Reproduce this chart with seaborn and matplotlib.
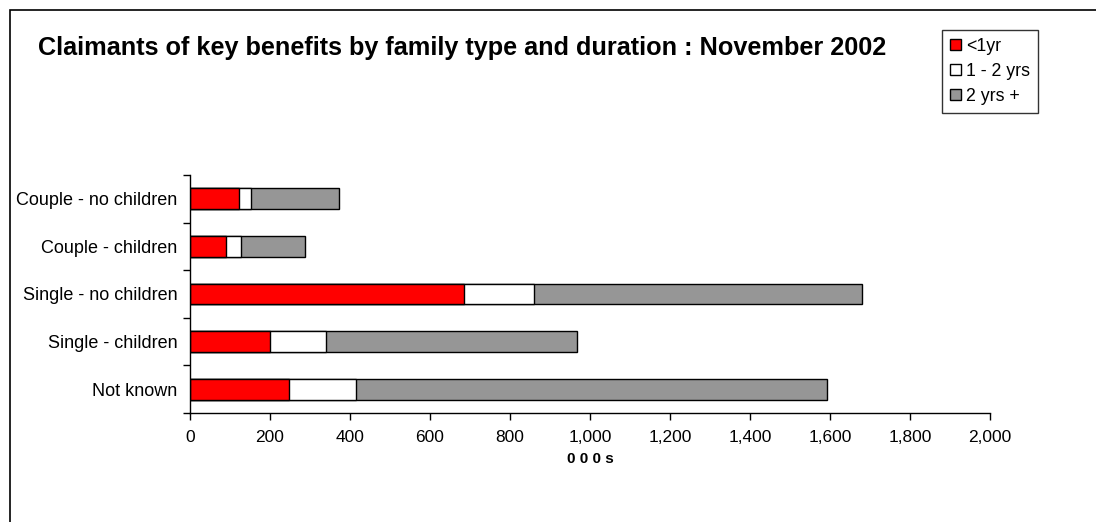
import numpy as np
import pandas as pd
import seaborn as sns
import matplotlib.pyplot as plt
from matplotlib.patches import Patch, Rectangle
from matplotlib.ticker import FuncFormatter

# data (thousands of claimants)
categories = ["Couple - no children", "Couple - children", "Single - no children",
              "Single - children", "Not known"]
under_1yr = [123, 91, 684, 200, 247]
one_two_yrs = [29, 36, 176, 140, 169]
two_plus = [220, 161, 820, 628, 1176]
series_names = ["<1yr", "1 - 2 yrs", "2 yrs +"]
colours = ["#FF0000", "#FFFFFF", "#969696"]

df = pd.DataFrame({"family": categories, "lt1": under_1yr,
                   "one2": one_two_yrs, "two": two_plus})
df["cum1"] = df["lt1"]
df["cum2"] = df["lt1"] + df["one2"]
df["cum3"] = df["cum2"] + df["two"]

sns.set_style("white")
plt.rcParams['font.family'] = ['Liberation Sans', 'DejaVu Sans']
plt.rcParams['text.color'] = 'black'
plt.rcParams['xtick.color'] = 'black'
plt.rcParams['ytick.color'] = 'black'
plt.rcParams['axes.labelcolor'] = 'black'

fig = plt.figure(figsize=(10.96, 5.22), dpi=100)
ax = fig.add_axes([190/1096, 1-413/522, 800/1096, 238/522])

# stacked bars: draw the cumulative totals on top of each other
for col, c in zip(["cum3", "cum2", "cum1"], colours[::-1]):
    sns.barplot(data=df, x=col, y="family", color=c, saturation=1,
                edgecolor="black", linewidth=1, width=0.44, ax=ax)

ax.set_xlim(0, 2000)
ax.set_xticks(np.arange(0, 2001, 200))
ax.xaxis.set_major_formatter(FuncFormatter(lambda v, p: f"{int(v):,}"))
ax.set_ylim(4.5, -0.5)
ax.set_yticks(range(len(categories)))
ax.set_yticklabels(categories)
ax.set_yticks(np.arange(-0.5, 5, 1), minor=True)
ax.tick_params(axis="y", which="major", length=0, pad=9, labelsize=13)
ax.tick_params(axis="y", which="minor", length=5, width=1, color="black", direction="out", left=True)
ax.tick_params(axis="x", length=5, width=1, color="black", direction="out", bottom=True, pad=7, labelsize=12.5)

for s in ["top", "right"]:
    ax.spines[s].set_visible(False)
for s in ["left", "bottom"]:
    ax.spines[s].set_color("black")
    ax.spines[s].set_linewidth(1)

ax.set_ylabel("")
ax.set_xlabel("0 0 0 s", fontsize=11, fontweight="bold", labelpad=5)

fig.text(38/1096, 1-48/522, "Claimants of key benefits by family type and duration : November 2002",
         fontsize=18.2, fontweight="bold", va="center", ha="left")

handles = [Patch(facecolor=c, edgecolor="black", label=n) for c, n in zip(colours, series_names)]
leg = fig.legend(handles=handles, loc="upper left", bbox_to_anchor=(942/1096, 1-30/522),
                 frameon=True, fancybox=False, edgecolor="black", fontsize=12.8,
                 handlelength=0.6, handleheight=0.6, handletextpad=0.3,
                 labelspacing=0.45, borderpad=0.45, borderaxespad=0)
leg.get_frame().set_linewidth(1)

fig.patches.append(Rectangle((10/1096, -0.01), 1, 1-10/522+0.01, transform=fig.transFigure,
                             fill=False, edgecolor="black", linewidth=1.2))

fig.savefig("out.png", dpi=100)
